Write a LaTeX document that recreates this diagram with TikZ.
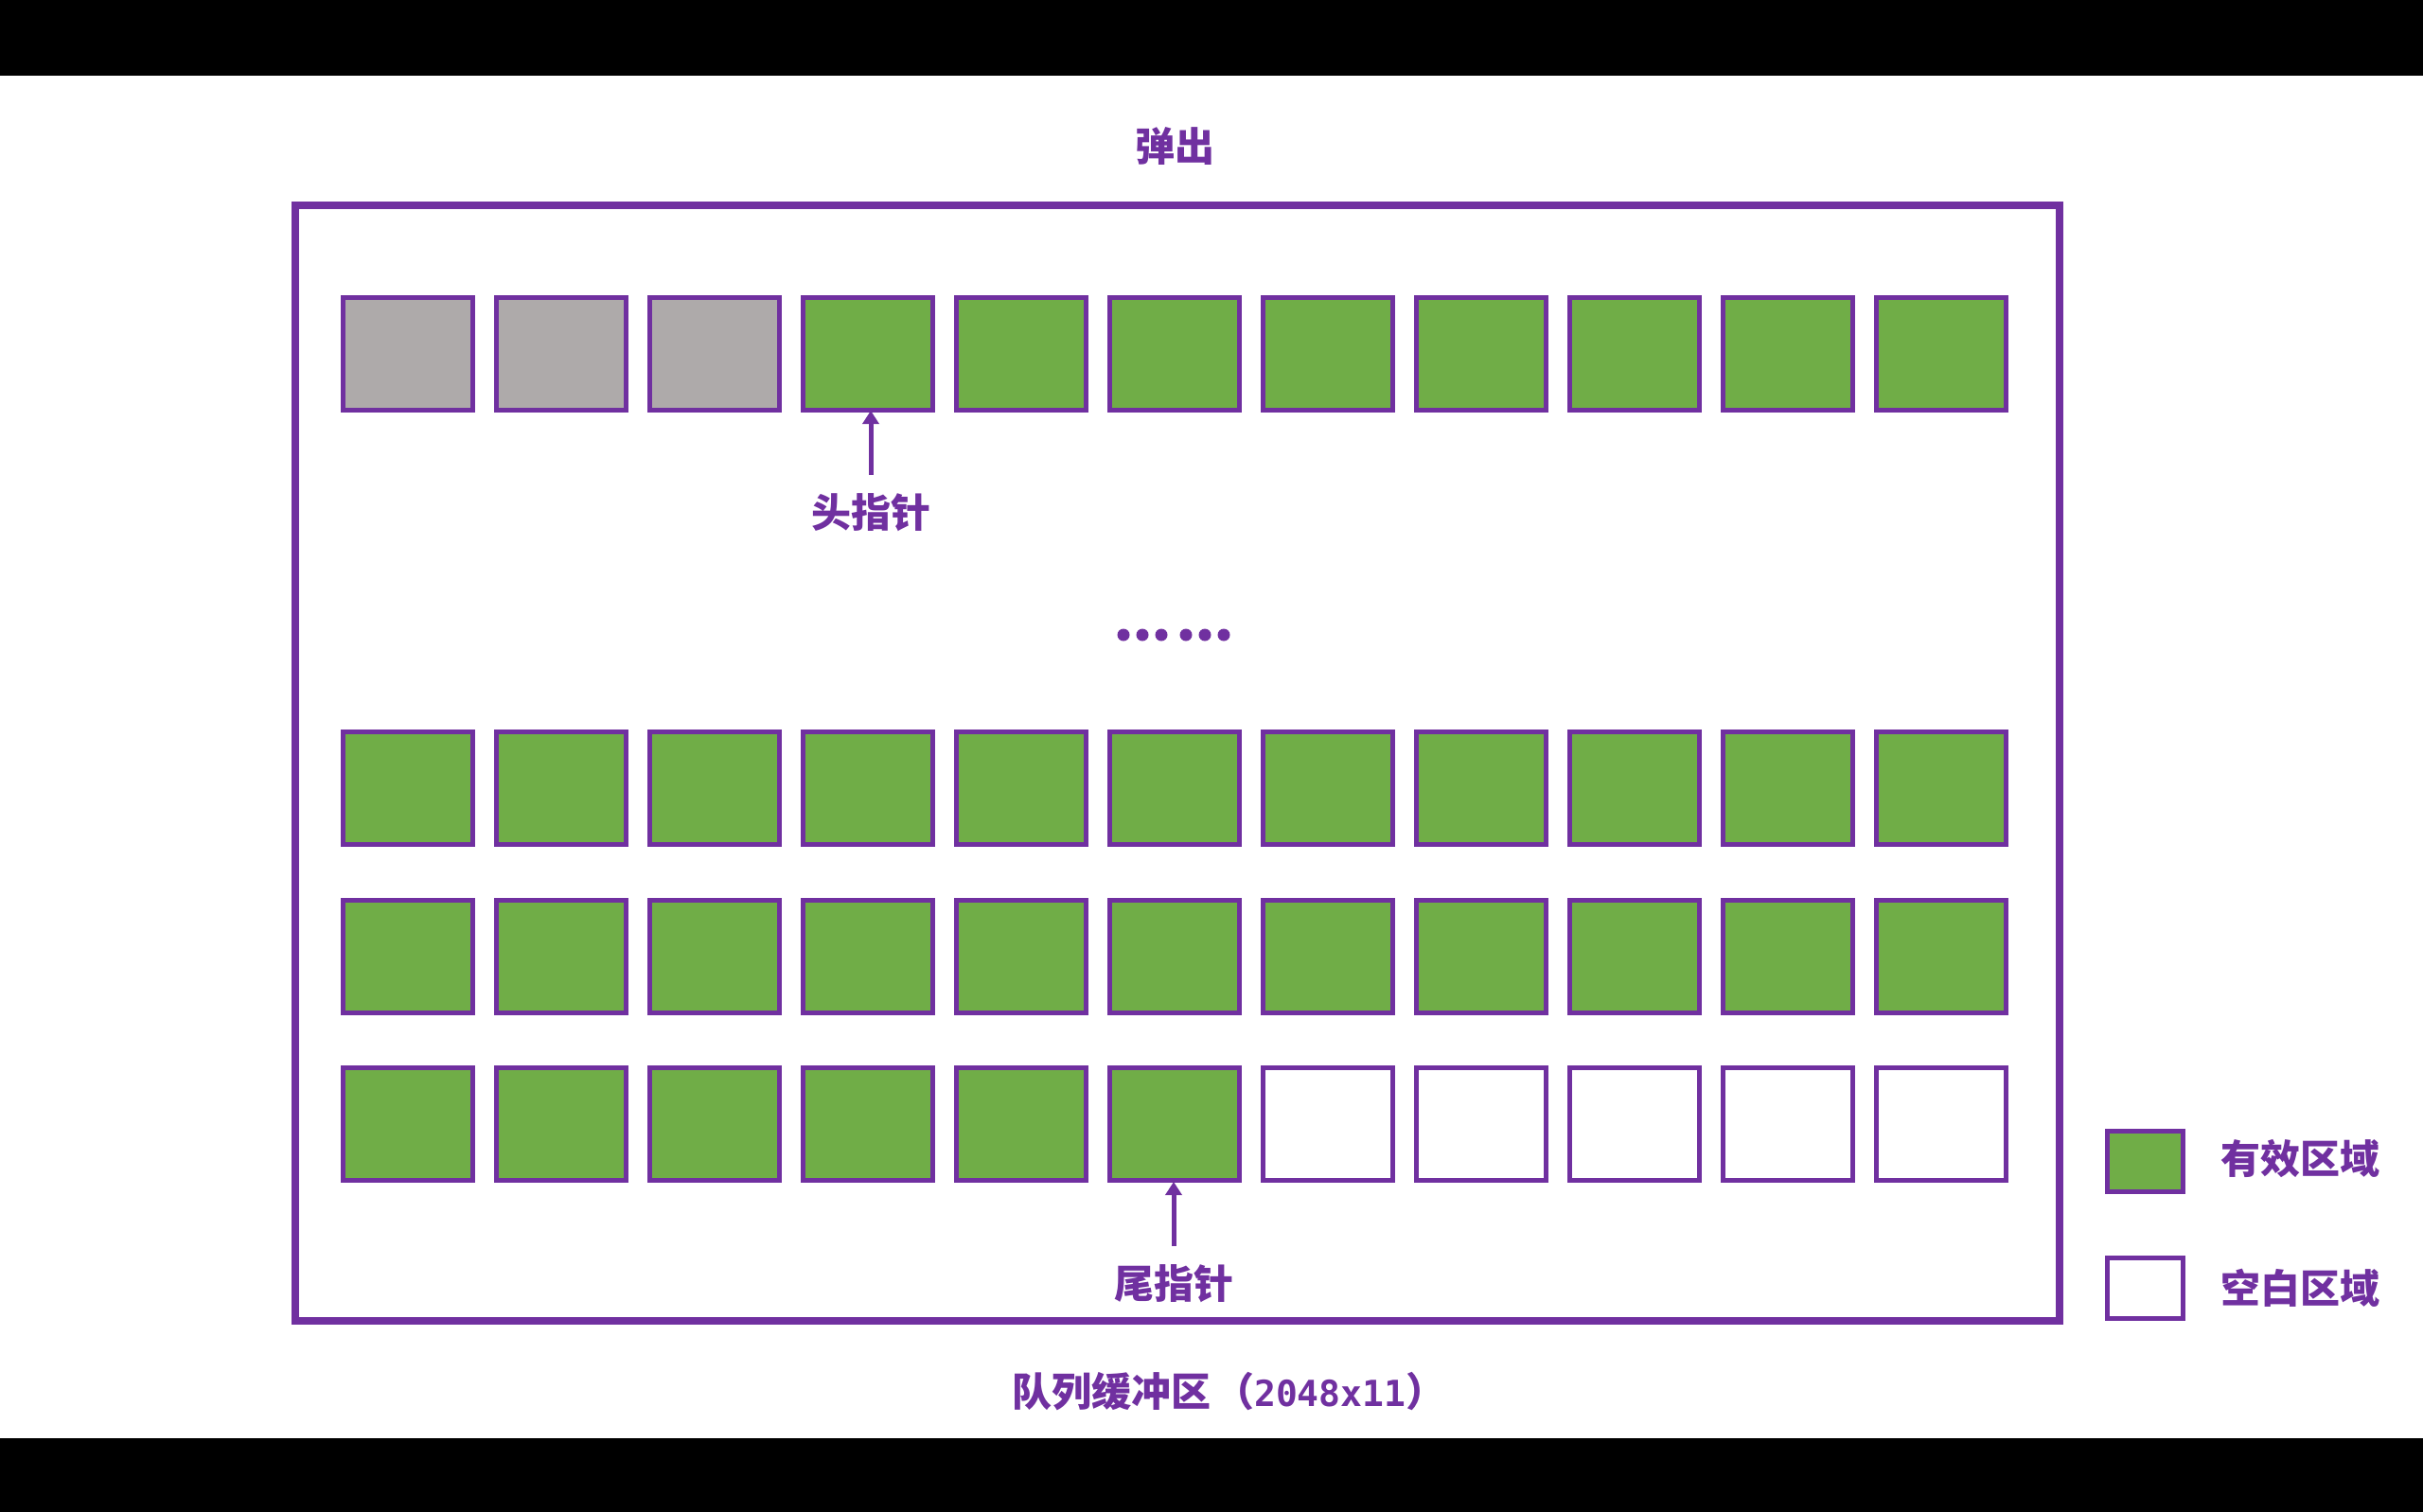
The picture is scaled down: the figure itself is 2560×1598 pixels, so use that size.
\documentclass[tikz,border=0pt]{standalone}
\usepackage{fontspec}
\newfontfamily\cjk{Noto Sans CJK SC}
\newfontfamily\monof{DejaVu Sans Mono}
\usetikzlibrary{arrows.meta}
\definecolor{qpurple}{HTML}{7030A0}
\definecolor{qgreen}{HTML}{70AD47}
\definecolor{qgray}{HTML}{AEAAAA}
\tikzset{
  cell/.style={draw=qpurple, line width=5pt, minimum width=137pt, minimum height=119pt, inner sep=0pt},
  lgcell/.style={draw=qpurple, line width=5pt, minimum width=80pt, minimum height=64pt, inner sep=0pt},
  lbl/.style={text=qpurple, font=\cjk\bfseries\fontsize{42pt}{44pt}\selectfont, inner sep=0pt},
  ptr/.style={draw=qpurple, line width=5pt, -{Triangle[length=14pt,width=17pt]}},
  frame/.style={draw=qpurple, line width=8pt},
  dot/.style={circle, fill=qpurple, inner sep=0pt, minimum size=13pt}
}
\begin{document}
\begin{tikzpicture}[x=1pt,y=-1pt]
\useasboundingbox (0,0) rectangle (2560,1598);
\fill[white] (0,0) rectangle (2560,1598);
\fill[black] (0,0) rectangle (2560,80);
\fill[black] (0,1520) rectangle (2560,1598);
% frame
\draw[frame] (312,217) rectangle (2176,1396);
\node[lbl] (pop) at (1241,154) {弹出};
% row 1
\foreach \i in {0,...,10}{
  \pgfmathsetmacro{\cx}{430.5+162*\i}
  \ifnum\i<3
    \node[cell, fill=qgray] (a\i) at (\cx,373.5) {};
  \else
    \node[cell, fill=qgreen] (a\i) at (\cx,373.5) {};
  \fi
}
% rows 2 and 3
\foreach \i in {0,...,10}{
  \pgfmathsetmacro{\cx}{430.5+162*\i}
  \node[cell, fill=qgreen] (b\i) at (\cx,833) {};
  \node[cell, fill=qgreen] (c\i) at (\cx,1011) {};
}
% row 4
\foreach \i in {0,...,10}{
  \pgfmathsetmacro{\cx}{430.5+162*\i}
  \ifnum\i<6
    \node[cell, fill=qgreen] (d\i) at (\cx,1188) {};
  \else
    \node[cell, fill=white] (d\i) at (\cx,1188) {};
  \fi
}
% dots
\foreach \x [count=\k] in {1187,1207,1227,1253,1273,1293}{
  \node[dot] (dot\k) at (\x,671) {};
}
% head pointer
\node[lbl] (head) at (920,542) {头指针};
\coordinate (headstart) at (920,502);
\coordinate (headend) at (920,434);
\draw[ptr] (headstart) -- (headend);
% tail pointer
\node[lbl] (tail) at (1240,1357) {尾指针};
\coordinate (tailstart) at (1240,1317);
\coordinate (tailend) at (1240,1249);
\draw[ptr] (tailstart) -- (tailend);
% bottom label
\node[lbl, anchor=west] (buf) at (1069,1471) {队列缓冲区\hspace{4pt}（{\monof\bfseries\fontsize{38pt}{40pt}\selectfont 2048x11}）};
% legend
\node[lgcell, fill=qgreen] (lg1) at (2266.5,1227.5) {};
\node[lgcell, fill=white] (lg2) at (2266.5,1361) {};
\node[lbl, anchor=west] (lt1) at (2346,1225) {有效区域};
\node[lbl, anchor=west] (lt2) at (2346,1361) {空白区域};
\end{tikzpicture}
\end{document}
